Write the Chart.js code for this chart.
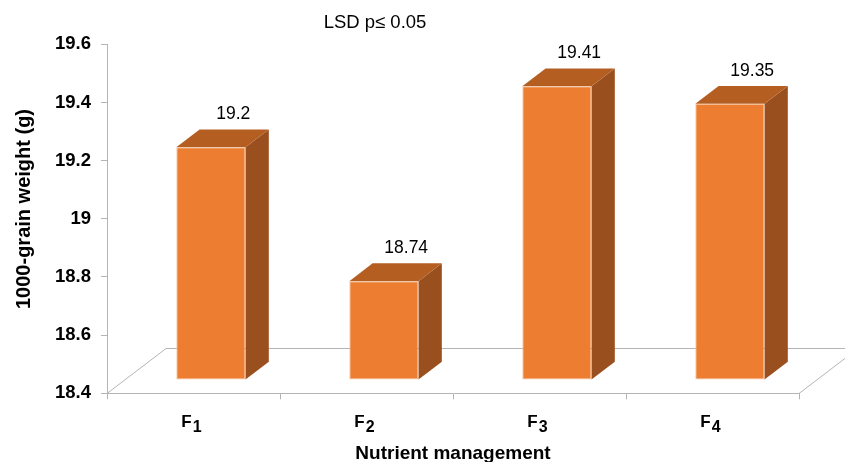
<!DOCTYPE html>
<html>
<head>
<meta charset="utf-8">
<script src="https://cdn.jsdelivr.net/npm/chart.js@4/dist/chart.umd.min.js"></script>
<style>
  html, body { margin: 0; padding: 0; background: #ffffff; }
  canvas { display: block; }
</style>
</head>
<body>
<canvas id="chart" width="845" height="462"></canvas>
<script>
// ---- data ----
const categories = ['F1', 'F2', 'F3', 'F4'];
const grainWeight = [19.2, 18.74, 19.41, 19.35];
const yTickValues = [18.4, 18.6, 18.8, 19, 19.2, 19.4, 19.6];
const noteText = 'LSD p\u2264 0.05';
const xAxisTitle = 'Nutrient management';
const yAxisTitle = '1000-grain weight (g)';

// ---- style ----
const FONT = '"Liberation Sans", Arial, Helvetica, sans-serif';
const AXIS_GREY = '#b4b4b4';
const FRONT = '#ed7d31';
const FRONT_EDGE = '#f6c29c';
const TOP = '#b55e22';
const SIDE = '#9a4f1e';
// oblique projection used for the floor and the bar depth
const DEPTH = { x: 59, y: 45 };
const BAR_FRONT = 0.295;
const BAR_BACK = 0.69;

const fx = DEPTH.x * BAR_FRONT, fy = -DEPTH.y * BAR_FRONT;
const bx = DEPTH.x * BAR_BACK, by = -DEPTH.y * BAR_BACK;

function poly(ctx, pts, fill) {
  ctx.beginPath();
  ctx.moveTo(pts[0][0], pts[0][1]);
  for (let i = 1; i < pts.length; i++) ctx.lineTo(pts[i][0], pts[i][1]);
  ctx.closePath();
  ctx.fillStyle = fill;
  ctx.fill();
}

// Floor, bar side/top faces, and a shifted front face drawn by the bar controller
const bars3d = {
  id: 'bars3d',
  beforeDatasetsDraw(chart) {
    const { ctx, chartArea: a } = chart;
    ctx.save();
    ctx.strokeStyle = AXIS_GREY;
    ctx.lineWidth = 1;
    const yb = Math.round(a.bottom) + 0.5;
    ctx.beginPath();
    ctx.moveTo(a.left, yb);
    ctx.lineTo(a.left + DEPTH.x, yb - DEPTH.y);
    ctx.lineTo(a.right + DEPTH.x, yb - DEPTH.y);
    ctx.lineTo(a.right, yb);
    ctx.stroke();

    const meta = chart.getDatasetMeta(0);
    meta.data.forEach(bar => {
      const { x, y, base, width } = bar.getProps(['x', 'y', 'base', 'width'], true);
      const l = x - width / 2, r = x + width / 2;
      poly(ctx, [[r + fx, y + fy], [r + bx, y + by], [r + bx, base + by], [r + fx, base + fy]], SIDE);
      poly(ctx, [[l + fx, y + fy], [r + fx, y + fy], [r + bx, y + by], [l + bx, y + by]], TOP);
    });
    ctx.translate(fx, fy);
  },
  afterDatasetsDraw(chart) {
    const { ctx } = chart;
    ctx.restore();
    const meta = chart.getDatasetMeta(0);
    const values = chart.data.datasets[0].data;
    ctx.save();
    ctx.fillStyle = '#000';
    ctx.font = '17.5px ' + FONT;
    ctx.textAlign = 'center';
    ctx.textBaseline = 'middle';
    meta.data.forEach((bar, i) => {
      const { x, y } = bar.getProps(['x', 'y'], true);
      ctx.fillText(String(values[i]), x + bx - 1, y + by - 15);
    });
    ctx.restore();
  },
  afterDraw(chart) {
    const { ctx, scales } = chart;
    ctx.save();
    ctx.fillStyle = '#000';
    // category labels with subscript digits
    ctx.textBaseline = 'alphabetic';
    ctx.textAlign = 'left';
    chart.data.labels.forEach((lab, i) => {
      const letter = lab.replace(/[0-9]+$/, '');
      const digits = lab.slice(letter.length);
      const cx = scales.x.getPixelForValue(i) - 2;
      ctx.font = 'bold 17px ' + FONT;
      const wl = ctx.measureText(letter).width;
      ctx.font = 'bold 16px ' + FONT;
      const wd = ctx.measureText(digits).width;
      const x0 = cx - (wl + 1 + wd) / 2;
      ctx.font = 'bold 17px ' + FONT;
      ctx.fillText(letter, x0, 427);
      ctx.font = 'bold 16px ' + FONT;
      ctx.fillText(digits, x0 + wl + 1, 431.5);
    });
    // note above the plot
    ctx.font = '18.5px ' + FONT;
    ctx.textAlign = 'center';
    ctx.textBaseline = 'middle';
    ctx.fillText(noteText, 375, 23);
    // value axis title
    ctx.translate(24, 209);
    ctx.rotate(-Math.PI / 2);
    ctx.font = 'bold 20px ' + FONT;
    ctx.fillText(yAxisTitle, 0, 0);
    ctx.restore();
  }
};

new Chart(document.getElementById('chart'), {
  type: 'bar',
  data: {
    labels: categories,
    datasets: [{
      data: grainWeight,
      base: yTickValues[0],
      backgroundColor: FRONT,
      borderColor: FRONT_EDGE,
      borderWidth: 1,
      borderSkipped: false,
      barPercentage: 0.4,
      categoryPercentage: 1,
      clip: false
    }]
  },
  options: {
    responsive: false,
    animation: false,
    events: [],
    layout: { padding: { top: 44.3, right: 46, bottom: 0, left: 0 } },
    plugins: { legend: { display: false }, tooltip: { enabled: false }, title: { display: false } },
    scales: {
      x: {
        offset: true,
        grid: { offset: true, drawOnChartArea: false, drawTicks: true, tickLength: 6, color: AXIS_GREY },
        border: { color: AXIS_GREY, width: 1 },
        ticks: { display: false },
        title: {
          display: true, text: xAxisTitle, color: '#000',
          font: { family: FONT, size: 19, weight: 'bold' },
          padding: { top: 0, bottom: -3 }
        },
        afterFit(s) { s.height = 68.7; }
      },
      y: {
        min: 18.4,
        max: 19.6,
        afterBuildTicks(s) { s.ticks = yTickValues.map(v => ({ value: v })); },
        grid: { drawOnChartArea: false, drawTicks: true, tickLength: 6, color: AXIS_GREY },
        border: { color: AXIS_GREY, width: 1 },
        ticks: {
          padding: 10,
          color: '#000',
          font: { family: FONT, size: 18.5, weight: 'bold' },
          callback: v => String(+Number(v).toFixed(1))
        },
        afterFit(s) { s.width = 107; }
      }
    }
  },
  plugins: [bars3d]
});
</script>
</body>
</html>
